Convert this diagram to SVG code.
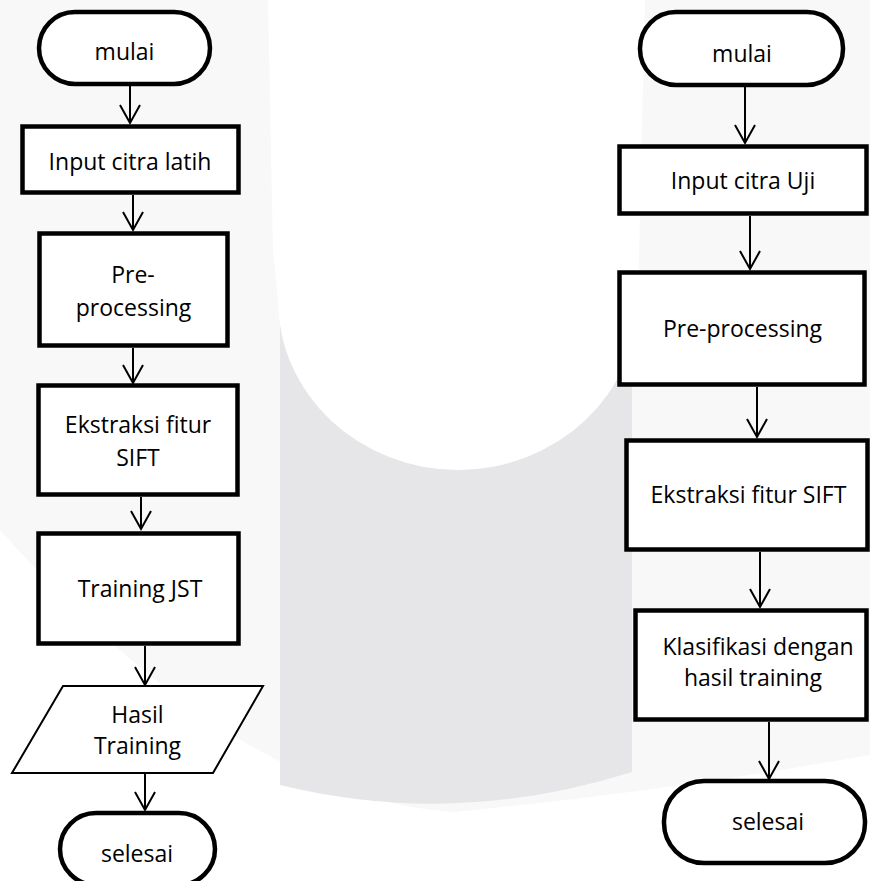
<svg xmlns="http://www.w3.org/2000/svg" width="870" height="881" viewBox="0 0 870 881">
<style>
  .node { fill: #ffffff; stroke: #000000; stroke-width: 4.5; }
  .io { fill: #ffffff; stroke: #000000; stroke-width: 2; stroke-linejoin: miter; }
  .conn { stroke: #000000; stroke-width: 2; fill: none; }
  .lbl { font-family: "Open Sans", "Noto Sans", sans-serif; font-size: 23px; fill: #000000; text-anchor: middle; }
</style>
<defs>
  <marker id="arr" markerUnits="userSpaceOnUse" markerWidth="40" markerHeight="40" viewBox="-20 -20 40 40" refX="0" refY="0" orient="auto" overflow="visible">
    <path d="M-18,-10 L0,0 L-18,10" fill="none" stroke="#000000" stroke-width="2"/>
  </marker>
</defs>
<g id="watermark">
  <rect x="0" y="0" width="870" height="881" fill="#ffffff"/>
  <path d="M0,0 L870,0 L870,755 Q 660,792 455,812 Q 240,800 0,530 Z" fill="#f8f8f8"/>
  <path d="M280,300 L280,785 Q 455,828 632,772 L632,300 Z" fill="#e6e6e8"/>
  <path d="M268,0 L273,250 L278,300 A180,170 0 0 0 638,300 L645,0 Z" fill="#ffffff"/>
</g>
<g id="connectors">
  <line class="conn" x1="130" y1="86" x2="130" y2="123" marker-end="url(#arr)"/>
  <line class="conn" x1="133" y1="195" x2="133" y2="230" marker-end="url(#arr)"/>
  <line class="conn" x1="133" y1="348" x2="133" y2="383" marker-end="url(#arr)"/>
  <line class="conn" x1="141" y1="497" x2="141" y2="529" marker-end="url(#arr)"/>
  <line class="conn" x1="145" y1="646" x2="145" y2="685" marker-end="url(#arr)"/>
  <line class="conn" x1="145" y1="773" x2="145" y2="810" marker-end="url(#arr)"/>
  <line class="conn" x1="745" y1="87" x2="745" y2="143" marker-end="url(#arr)"/>
  <line class="conn" x1="750" y1="216" x2="750" y2="269" marker-end="url(#arr)"/>
  <line class="conn" x1="757" y1="387" x2="757" y2="437" marker-end="url(#arr)"/>
  <line class="conn" x1="760" y1="552" x2="760" y2="607" marker-end="url(#arr)"/>
  <line class="conn" x1="769" y1="722" x2="769" y2="779" marker-end="url(#arr)"/>
</g>
<g id="l-mulai">
  <rect class="node" x="39" y="12" width="171" height="72" rx="36" ry="36"/>
  <text class="lbl" x="124.5" y="60">mulai</text>
</g>
<g id="l-input">
  <rect class="node" x="22.5" y="126.5" width="216" height="66"/>
  <text class="lbl" x="130" y="170">Input citra latih</text>
</g>
<g id="l-pre">
  <rect class="node" x="39.5" y="233.5" width="188" height="112"/>
  <text class="lbl" x="133" y="283">Pre-</text>
  <text class="lbl" x="133.5" y="316">processing</text>
</g>
<g id="l-ekstraksi">
  <rect class="node" x="38.5" y="385.5" width="199" height="109"/>
  <text class="lbl" x="138" y="433">Ekstraksi fitur</text>
  <text class="lbl" x="138" y="466">SIFT</text>
</g>
<g id="l-training">
  <rect class="node" x="38.5" y="533.5" width="200" height="110"/>
  <text class="lbl" x="140" y="597">Training JST</text>
</g>
<g id="l-hasil">
  <polygon class="io" points="63,686 263,686 213,773 12,773"/>
  <text class="lbl" x="137.5" y="723">Hasil</text>
  <text class="lbl" x="137.5" y="754">Training</text>
</g>
<g id="l-selesai">
  <rect class="node" x="60" y="813" width="155" height="72" rx="36" ry="36"/>
  <text class="lbl" x="137" y="862">selesai</text>
</g>
<g id="r-mulai">
  <rect class="node" x="640" y="12" width="203" height="73" rx="36" ry="36"/>
  <text class="lbl" x="742" y="62">mulai</text>
</g>
<g id="r-input">
  <rect class="node" x="619.5" y="146.5" width="247" height="67"/>
  <text class="lbl" x="743" y="189">Input citra Uji</text>
</g>
<g id="r-pre">
  <rect class="node" x="619.5" y="272.5" width="245" height="112"/>
  <text class="lbl" x="742.5" y="337">Pre-processing</text>
</g>
<g id="r-ekstraksi">
  <rect class="node" x="626.5" y="440.5" width="241" height="109"/>
  <text class="lbl" x="748.5" y="503">Ekstraksi fitur SIFT</text>
</g>
<g id="r-klasifikasi">
  <rect class="node" x="635.5" y="610.5" width="231" height="109"/>
  <text class="lbl" x="758" y="655">Klasifikasi dengan</text>
  <text class="lbl" x="753" y="686">hasil training</text>
</g>
<g id="r-selesai">
  <rect class="node" x="664" y="781" width="201" height="82" rx="40" ry="40"/>
  <text class="lbl" x="768" y="830">selesai</text>
</g>
</svg>
